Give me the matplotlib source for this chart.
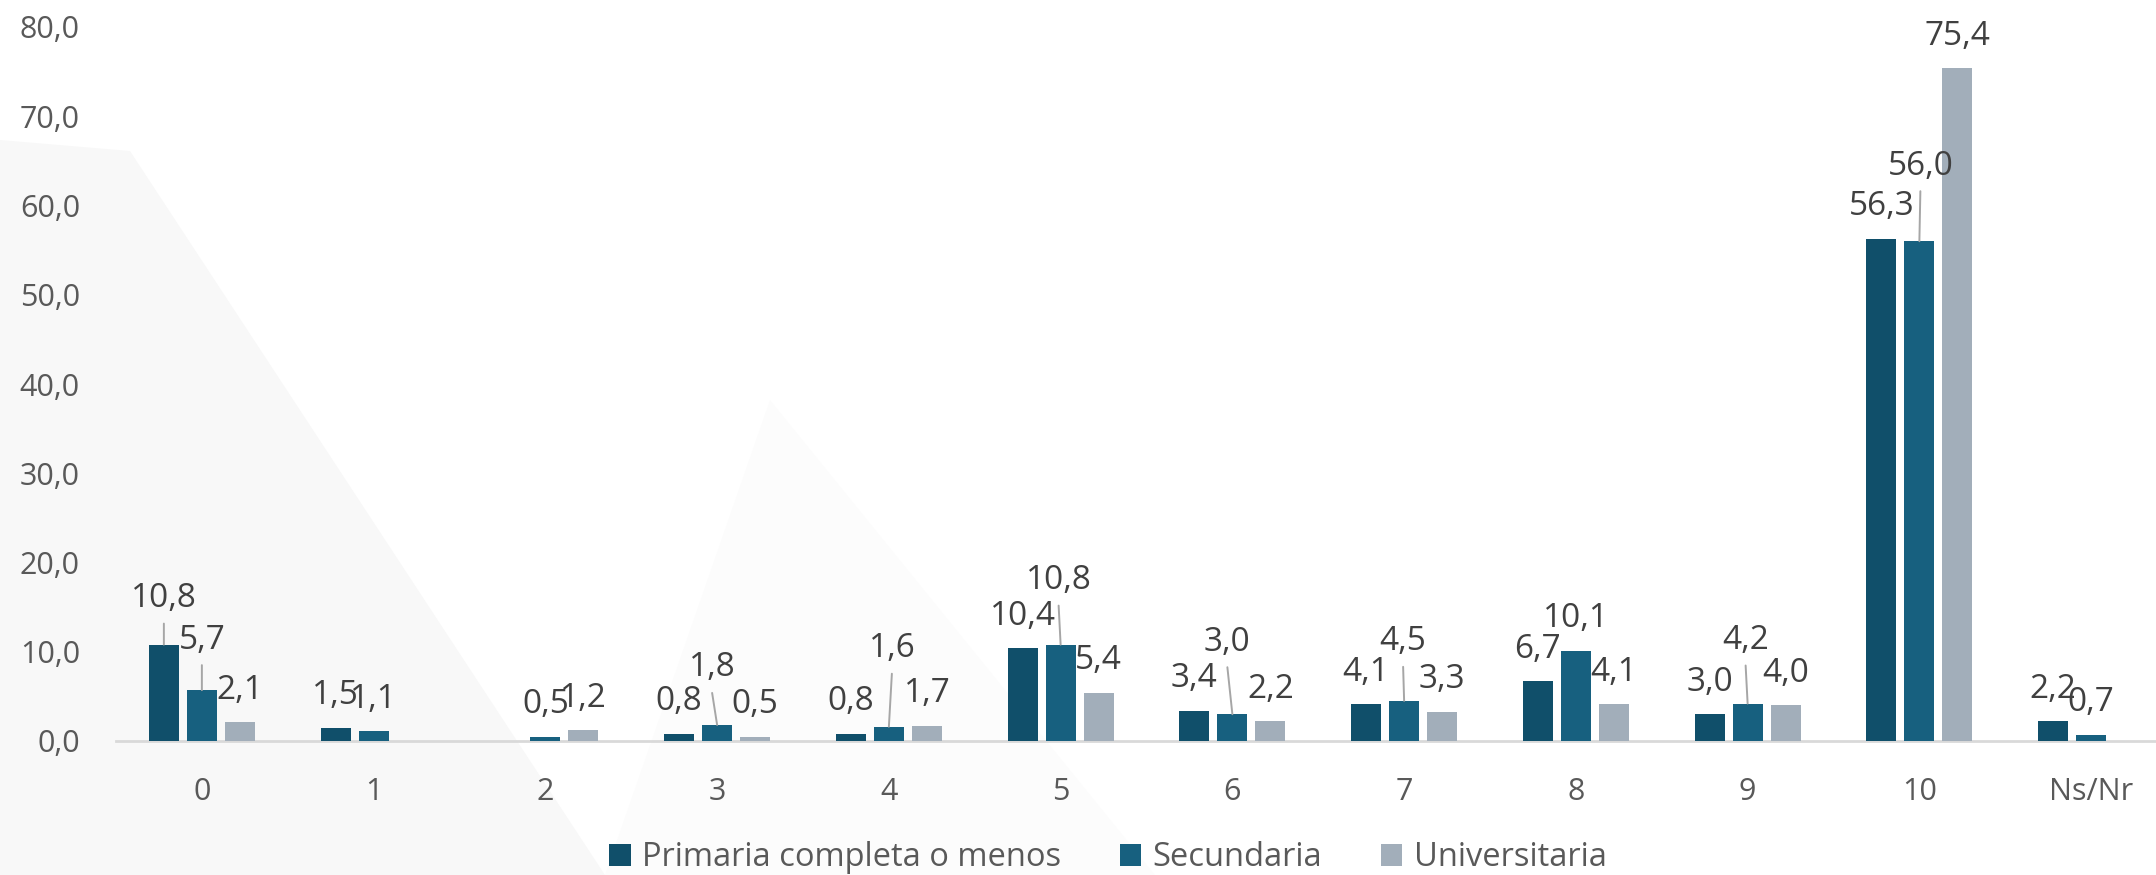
import numpy as np
import matplotlib.pyplot as plt
from matplotlib.patches import Polygon

plt.rcParams['font.family'] = ['Open Sans', 'DejaVu Sans']

categorias = ["0", "1", "2", "3", "4", "5", "6", "7", "8", "9", "10", "Ns/Nr"]
series = ["Primaria completa o menos", "Secundaria", "Universitaria"]
primaria = [10.8, 1.5, np.nan, 0.8, 0.8, 10.4, 3.4, 4.1, 6.7, 3.0, 56.3, 2.2]
secundaria = [5.7, 1.1, 0.5, 1.8, 1.6, 10.8, 3.0, 4.5, 10.1, 4.2, 56.0, 0.7]
universitaria = [2.1, np.nan, 1.2, 0.5, 1.7, 5.4, 2.2, 3.3, 4.1, 4.0, 75.4, np.nan]
y_ticks = [0, 10, 20, 30, 40, 50, 60, 70, 80]

colores = ["#104f6a", "#17607f", "#a2aeba"]

# etiquetas desplazadas a mano (como en Excel), en pixeles: (serie, categoria) -> (dx, dy)
lift = {
    (0, 0): (0, 46), (1, 0): (0, 50), (1, 3): (-5, 57), (1, 4): (3, 78),
    (1, 5): (-2, 64), (1, 6): (-5, 72), (1, 7): (-1, 59), (1, 9): (-2, 63),
    (1, 10): (1, 75),
}

W, H = 2156, 875
fig = plt.figure(figsize=(W / 100, H / 100), dpi=100)

# fondo: triangulos grises muy claros
bg = fig.add_axes([0, 0, 1, 1], zorder=-10)
bg.set_xlim(0, W)
bg.set_ylim(H, 0)
bg.axis("off")
bg.add_patch(Polygon([(0, 140), (130, 151), (605, 875), (0, 875)],
                     closed=True, facecolor="#f8f8f8", edgecolor="none"))
bg.add_patch(Polygon([(770, 400), (1155, 875), (605, 875)],
                     closed=True, facecolor="#fcfcfc", edgecolor="none"))

ax = fig.add_axes([116 / W, (H - 741) / H, (2177 - 116) / W, (741 - 27) / H])
ax.patch.set_alpha(0)

x = np.arange(len(categorias))
bw = 0.175
step = 0.2213
datos = [primaria, secundaria, universitaria]
for i, (nombre, vals, col) in enumerate(zip(series, datos, colores)):
    xs = x + (i - 1) * step
    ax.bar(xs, vals, width=bw, color=col, label=nombre, zorder=3)
    for j, v in enumerate(vals):
        if np.isnan(v):
            continue
        dx, dy = lift.get((i, j), (0, 32))
        ax.annotate(f"{v:.1f}".replace(".", ","), xy=(xs[j], v), xytext=(dx, dy),
                    textcoords="offset pixels", ha="center", va="center",
                    fontsize=24, color="#404040", zorder=5)
        if dy > 40:
            ax.annotate("", xy=(xs[j], v), xytext=(dx, dy - 25),
                        textcoords="offset pixels",
                        arrowprops=dict(arrowstyle="-", color="#a6a6a6", lw=1.4,
                                        shrinkA=0, shrinkB=0), zorder=4)

ax.set_xlim(-0.5, len(categorias) - 0.5)
ax.set_ylim(0, 80)
ax.set_xticks(x)
ax.set_xticklabels(categorias)
ax.set_yticks(y_ticks)
ax.set_yticklabels([f"{t:.1f}".replace(".", ",") for t in y_ticks])
ax.tick_params(axis="both", length=0, labelsize=22, colors="#595959")
ax.tick_params(axis="x", pad=26)
ax.tick_params(axis="y", pad=26)
for s in ["top", "right", "left"]:
    ax.spines[s].set_visible(False)
ax.spines["bottom"].set_color("#d9d9d9")
ax.spines["bottom"].set_linewidth(2)
ax.spines["bottom"].set_zorder(2)

fig.legend(loc="center", bbox_to_anchor=(1108 / W, (H - 858) / H), ncol=3,
           frameon=False, fontsize=23.5, labelcolor="#595959",
           handlelength=0.65, handleheight=0.65, handletextpad=0.35,
           columnspacing=1.8)

fig.savefig("out.png", dpi=100)
